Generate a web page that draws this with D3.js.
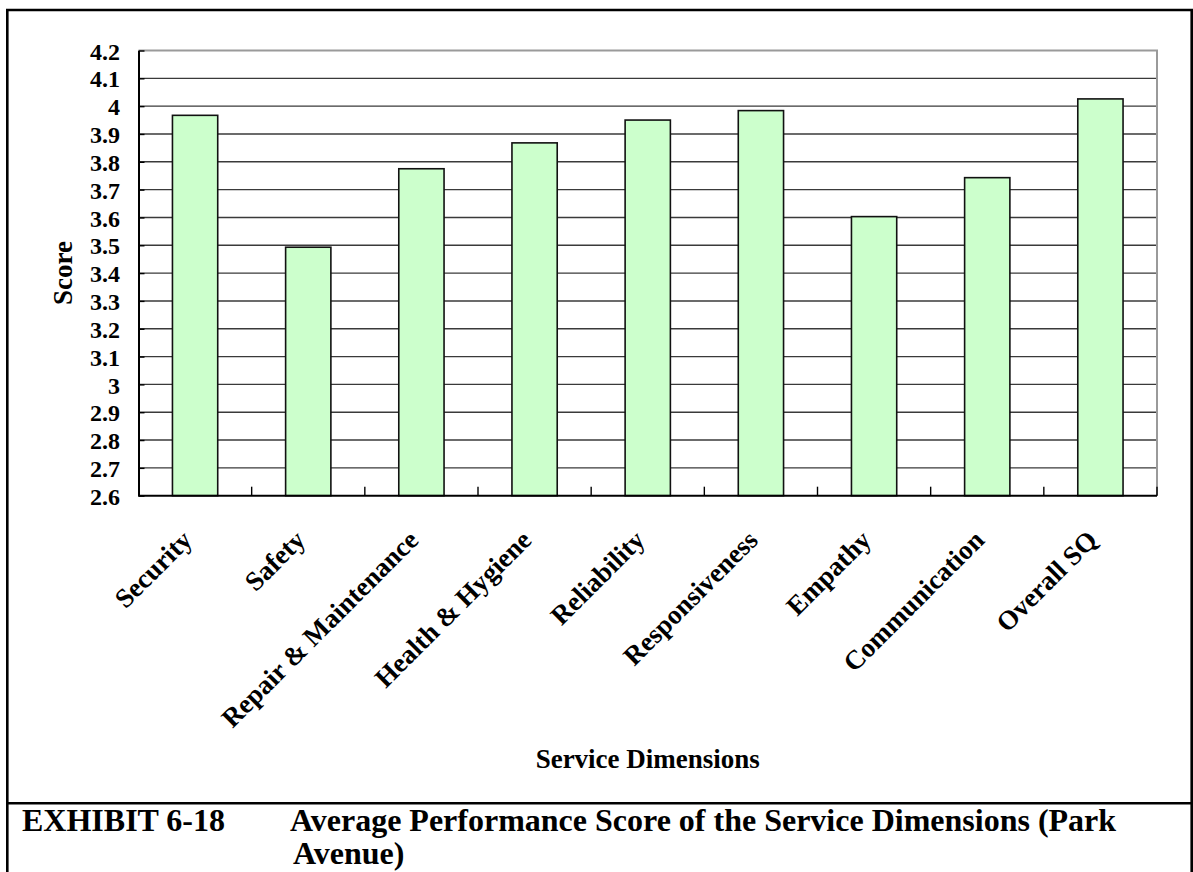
<!DOCTYPE html>
<html>
<head>
<meta charset="utf-8">
<script src="https://cdn.jsdelivr.net/npm/d3@7"></script>
<style>
  html, body { margin: 0; padding: 0; background: #ffffff; }
  svg { display: block; }
  text { font-family: "Liberation Serif", "Times New Roman", serif; font-weight: bold; fill: #000; }
</style>
</head>
<body>
<svg id="chart" width="1193" height="872"></svg>
<script>
// Service dimensions and their average performance scores (Park Avenue)
const categories = ["Security", "Safety", "Repair & Maintenance", "Health & Hygiene",
  "Reliability", "Responsiveness", "Empathy", "Communication", "Overall SQ"];
const scores = [3.967, 3.493, 3.775, 3.868, 3.950, 3.984, 3.603, 3.743, 4.026];
const yTicks = [2.6, 2.7, 2.8, 2.9, 3.0, 3.1, 3.2, 3.3, 3.4, 3.5, 3.6, 3.7, 3.8, 3.9, 4.0, 4.1, 4.2];
const yTitle = "Score";
const xTitle = "Service Dimensions";
const captionLabel = "EXHIBIT 6-18";
const captionLines = ["Average Performance Score of the Service Dimensions (Park", "Avenue)"];

const svg = d3.select("#chart");

const plot = { left: 138.5, right: 1157, top: 50.5, bottom: 495.7 };

const x = d3.scaleBand()
  .domain(categories)
  .range([plot.left, plot.right])
  .paddingInner(0.6)
  .paddingOuter(0.3);

const y = d3.scaleLinear()
  .domain([yTicks[0], yTicks[yTicks.length - 1]])
  .range([plot.bottom, plot.top]);

// Outer frame and caption divider
svg.append("path")
  .attr("d", `M7.3,872 V10 H1191.7 V872`)
  .attr("fill", "none")
  .attr("stroke", "#000")
  .attr("stroke-width", 2.6);
svg.append("line")
  .attr("x1", 7.3).attr("x2", 1191.7)
  .attr("y1", 803.3).attr("y2", 803.3)
  .attr("stroke", "#000")
  .attr("stroke-width", 2.6);

// Horizontal gridlines
svg.append("g")
  .selectAll("line")
  .data(yTicks.slice(1, -1))
  .join("line")
  .attr("x1", plot.left).attr("x2", plot.right)
  .attr("y1", d => y(d)).attr("y2", d => y(d))
  .attr("stroke", "#3a3a3a")
  .attr("stroke-width", 1.4);

// Plot-area top and right edges
svg.append("path")
  .attr("d", `M${plot.left},${y(yTicks[yTicks.length - 1])} H${plot.right} V${plot.bottom}`)
  .attr("fill", "none")
  .attr("stroke", "#9a9a9a")
  .attr("stroke-width", 2);

// Bars
svg.append("g")
  .selectAll("rect")
  .data(categories)
  .join("rect")
  .attr("x", d => x(d))
  .attr("width", x.bandwidth())
  .attr("y", (d, i) => y(scores[i]))
  .attr("height", (d, i) => y(yTicks[0]) - y(scores[i]))
  .attr("fill", "#ccffcc")
  .attr("stroke", "#111")
  .attr("stroke-width", 1.6);

// Y axis
const yAxis = svg.append("g")
  .attr("transform", `translate(${plot.left},0)`)
  .call(d3.axisLeft(y)
    .tickValues(yTicks)
    .tickFormat(d => String(d))
    .tickSize(-6)
    .tickSizeOuter(0)
    .tickPadding(18.5));
yAxis.select(".domain").attr("stroke", "#000").attr("stroke-width", 2);
yAxis.selectAll(".tick line").attr("stroke", "#000").attr("stroke-width", 1.4);
yAxis.selectAll(".tick text")
  .attr("font-family", "Liberation Serif, Times New Roman, serif")
  .attr("font-weight", "bold")
  .attr("font-size", 24)
  .attr("fill", "#000")
  .attr("dy", "0.36em");

// X axis baseline and category divider ticks
svg.append("line")
  .attr("x1", plot.left).attr("x2", plot.right)
  .attr("y1", y(yTicks[0])).attr("y2", y(yTicks[0]))
  .attr("stroke", "#000")
  .attr("stroke-width", 2);
svg.append("g")
  .selectAll("line")
  .data(categories)
  .join("line")
  .attr("x1", d => x(d) + x.bandwidth() / 2 + x.step() / 2)
  .attr("x2", d => x(d) + x.bandwidth() / 2 + x.step() / 2)
  .attr("y1", y(yTicks[0]))
  .attr("y2", y(yTicks[0]) - 9)
  .attr("stroke", "#000")
  .attr("stroke-width", 1.4);

// Category labels, rotated 45 degrees
svg.append("g")
  .selectAll("text")
  .data(categories)
  .join("text")
  .attr("transform", d => `translate(${x(d) + x.bandwidth() / 2 - 1.5},${y(yTicks[0]) + 46}) rotate(-45)`)
  .attr("text-anchor", "end")
  .attr("font-size", 27)
  .text(d => d);

// Axis titles
svg.append("text")
  .attr("transform", `translate(72,${(plot.top + plot.bottom) / 2}) rotate(-90)`)
  .attr("text-anchor", "middle")
  .attr("font-size", 27)
  .text(yTitle);

svg.append("text")
  .attr("x", (plot.left + plot.right) / 2)
  .attr("y", 768)
  .attr("text-anchor", "middle")
  .attr("font-size", 27)
  .text(xTitle);

// Caption
svg.append("text")
  .attr("x", 22)
  .attr("y", 831)
  .attr("font-size", 32)
  .text(captionLabel);
svg.selectAll(".caption-line")
  .data(captionLines)
  .join("text")
  .attr("class", "caption-line")
  .attr("x", (d, i) => i === 0 ? 290 : 293)
  .attr("y", (d, i) => 831 + i * 32.5)
  .attr("font-size", 32)
  .text(d => d);
</script>
</body>
</html>
